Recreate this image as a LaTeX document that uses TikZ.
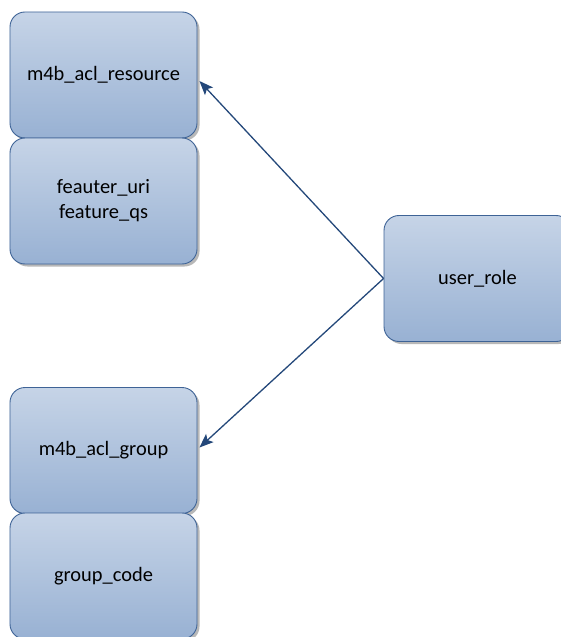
\documentclass[tikz,border=0pt]{standalone}
\usepackage{fontspec}
\setmainfont{Carlito}
\usetikzlibrary{shadows,arrows.meta}
\definecolor{boxtop}{HTML}{C6D4E7}
\definecolor{boxbot}{HTML}{98B1D3}
\definecolor{boxline}{HTML}{3E6396}
\definecolor{linkcol}{HTML}{24487A}
\tikzset{
  entity/.style={draw=boxline, line width=0.9bp, rounded corners=15bp,
    top color=boxtop, bottom color=boxbot,
    minimum width=187bp, minimum height=126bp, inner sep=0pt,
    align=center, font=\fontsize{20.5}{25}\selectfont,
    drop shadow={shadow xshift=2.5bp, shadow yshift=-2.5bp, fill=black!35, opacity=0.8}},
  link/.style={draw=linkcol, line width=1.3bp,
    -{Stealth[length=14bp, width=11bp, inset=3bp]}}
}
\begin{document}
\begin{tikzpicture}[x=1bp,y=-1bp]
  \useasboundingbox (0,0) rectangle (561,637);
  \clip (0,0) rectangle (561,637);
  \node[entity] (res)   at (103.5,75)    {m4b\_acl\_resource};
  \node[entity] (feat)  at (103.5,201)   {feauter\_uri\\feature\_qs};
  \node[entity] (grp)   at (103.5,450.5) {m4b\_acl\_group};
  \node[entity] (gcode) at (103.5,576)   {group\_code};
  \node[entity] (role)  at (477.5,278.5) {user\_role};
  \draw[link] (role.west) -- ([shift={(2,6)}]res.east);
  \draw[link] (role.west) -- ([shift={(2,-3)}]grp.east);
\end{tikzpicture}
\end{document}
